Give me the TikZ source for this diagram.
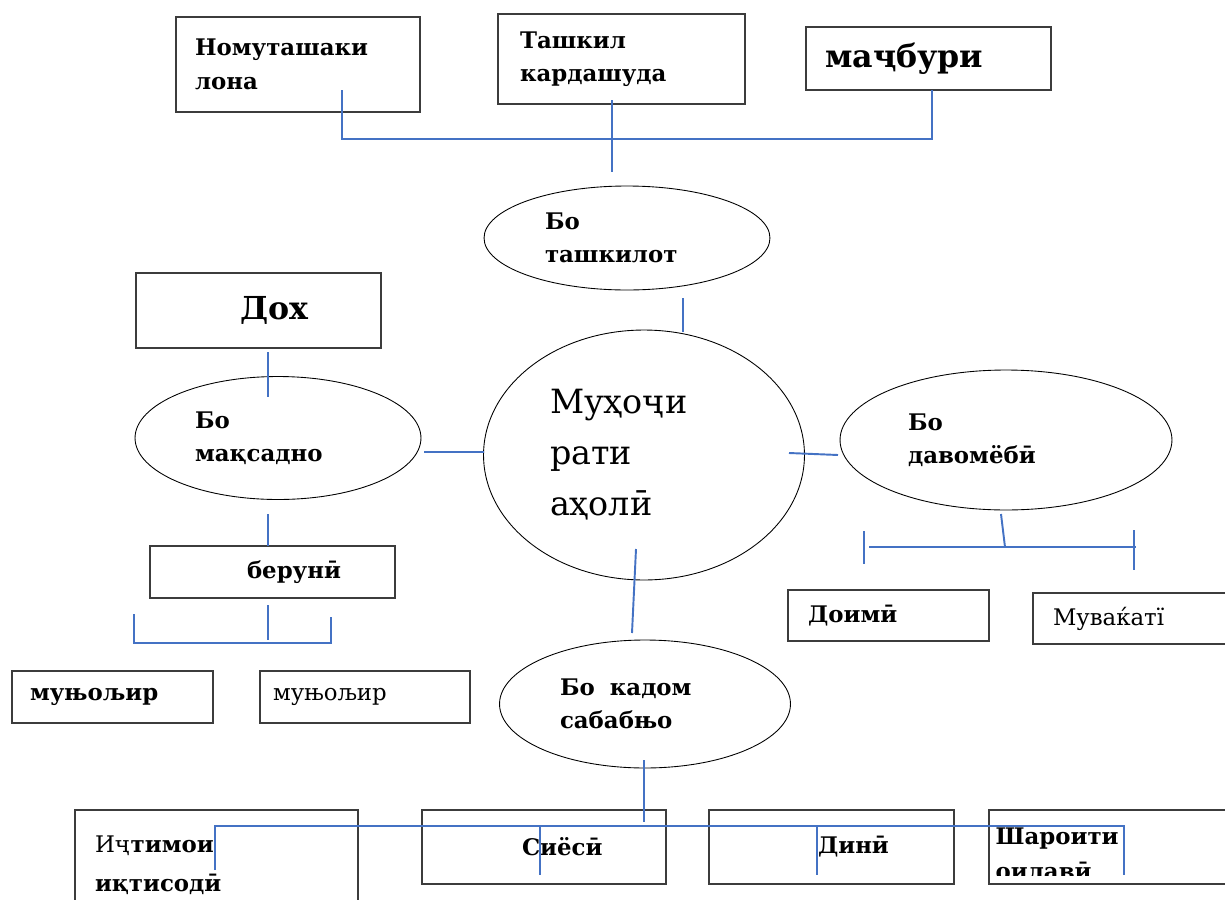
\documentclass[tikz,border=0pt]{standalone}
\usepackage{fontspec}
\setmainfont{DejaVu Serif}
\usetikzlibrary{shapes.geometric}

\definecolor{linkblue}{RGB}{68,114,196}
\definecolor{boxline}{RGB}{60,60,60}

\tikzset{
  box/.style={draw=boxline, line width=0.8pt, rectangle, align=left, inner ysep=0pt, inner xsep=0.38cm,
    font=\fontsize{13}{19}\selectfont\bfseries},
  oval/.style={draw, ellipse, line width=0.5pt, align=left, inner sep=0pt,
    font=\fontsize{13}{19}\selectfont\bfseries},
  plain/.style={font=\fontsize{13}{19}\selectfont},
  bigtxt/.style={font=\fontsize{18}{22}\selectfont\bfseries},
  lbl/.style={align=left, inner sep=0pt, font=\fontsize{13}{20}\selectfont\bfseries},
  link/.style={draw=linkblue, line width=1.1pt},
}

\begin{document}
\begin{tikzpicture}[x=0.02cm, y=-0.02cm]
  \clip (0,0) rectangle (1225,900);
  \fill[white] (0,0) rectangle (1225,900);

  % top row: kinds of organisation
  \node[box, text width=4.12cm, minimum height=1.9cm] (nomu) at (298,64.5) {Номуташаки\\лона};
  \node[box, inner xsep=0.44cm, text width=4.06cm, minimum height=1.8cm] (tashkil) at (621.5,59) {Ташкил\\кардашуда};
  \node[box, bigtxt, text width=4.14cm, minimum height=1.26cm] (majburi) at (928.5,58.5) {маҷбури};

  % ellipses round the centre
  \node[oval, minimum width=5.72cm, minimum height=2.08cm, text width=3.28cm] (org) at (627,238) {Бо\\ташкилот};
  \node[oval, minimum width=6.42cm, minimum height=5cm, text width=3.76cm,
        font=\fontsize{19}{29}\selectfont] (migr) at (644,455) {Муҳоҷи\\рати\\аҳолӣ};
  \node[oval, minimum width=5.72cm, minimum height=2.46cm, text width=3.32cm] (goal) at (278,438) {Бо\\мақсадно};
  \node[oval, minimum width=6.64cm, minimum height=2.8cm, text width=3.92cm] (durat) at (1006,440) {Бо\\давомёбӣ};
  \node[oval, minimum width=5.82cm, minimum height=2.56cm, text width=3.4cm] (reason) at (645,704) {Бо\ \ кадом\\сабабњо};

  % left branch
  \node[box, bigtxt, text width=4.14cm, minimum height=1.5cm] (dokh) at (258.5,310.5) {\hspace*{1.7cm}Дох};
  \node[box, text width=4.14cm, minimum height=1.04cm] (beruni) at (272.5,572) {\hspace*{1.56cm}берунӣ};
  \node[box, inner xsep=0.36cm, text width=3.3cm, minimum height=1.04cm] (muh1) at (112.5,697) {муњољир};
  \node[box, plain, inner xsep=0.26cm, text width=3.68cm, minimum height=1.04cm] (muh2) at (365,697) {муњољир};

  % right branch
  \node[box, inner xsep=0.4cm, text width=3.22cm, minimum height=1.02cm] (doimi) at (888.5,615.5) {Доимӣ};
  \node[box, plain, inner xsep=0.4cm, text width=3.4cm, minimum height=1.02cm] (muvaq) at (1138,618.5) {Муваќатї};

  % bottom row: causes
  \node[box, inner xsep=0.4cm, text width=4.86cm, minimum height=2.2cm,
        font=\fontsize{13}{22}\selectfont\bfseries] (ijt) at (216.5,865) {{\mdseries Иҷ}тимои\\иқтисодӣ};
  \node[box, text width=4.12cm, minimum height=1.48cm] (siyosi) at (544,847) {\hspace*{1.62cm}Сиёсӣ};
  \node[box, text width=4.14cm, minimum height=1.48cm] (dini) at (831.5,847) {\hspace*{1.8cm}Динӣ};
  \node[box, inner xsep=0.14cm, text width=4.74cm, minimum height=1.48cm] (sharoit) at (1114.5,847) {};
  \begin{scope}
    \clip (sharoit.north west) rectangle (1225,875);
    \node[lbl, anchor=north west] (sharoitT) at ([xshift=0.14cm, yshift=-0.36cm]sharoit.north west) {Шароити\\оилавӣ};
  \end{scope}

  % connector ends
  \coordinate (kindL) at (342,90);
  \coordinate (kindR) at (932,90);
  \coordinate (orgT) at (612,100);
  \coordinate (orgB) at (612,172);
  \coordinate (migrT) at (683,298);
  \coordinate (migrB) at (683,332);
  \coordinate (dokhT) at (268,352);
  \coordinate (dokhB) at (268,397);
  \coordinate (goalR) at (424,452);
  \coordinate (migrL) at (484,452);
  \coordinate (goalB) at (268,514);
  \coordinate (berT) at (268,546);
  \coordinate (berB) at (268,605);
  \coordinate (berC) at (268,640);
  \coordinate (muhL) at (134,614);
  \coordinate (muhR) at (331,617);
  \coordinate (migrR) at (789,453);
  \coordinate (duratL) at (838,455);
  \coordinate (duratB) at (1001,514);
  \coordinate (duratC) at (1005,547);
  \coordinate (tempL) at (869,547);
  \coordinate (tempR) at (1136,547);
  \coordinate (doimiT) at (864,531);
  \coordinate (doimiB) at (864,564);
  \coordinate (muvaqT) at (1134,530);
  \coordinate (muvaqB) at (1134,570);
  \coordinate (migrS) at (636,549);
  \coordinate (reasonN) at (632,633);
  \coordinate (reasonS) at (644,760);
  \coordinate (causeC) at (644,822);
  \coordinate (ijtB) at (215,870);
  \coordinate (sharB) at (1124,875);
  \coordinate (siyosiT) at (540,826);
  \coordinate (siyosiB) at (540,875);
  \coordinate (diniT) at (817,826);
  \coordinate (diniB) at (817,875);

  % connectors
  \draw[link] (kindL) -- ++(0,49) -| (kindR);
  \draw[link] (orgT) -- (orgB);
  \draw[link] (migrT) -- (migrB);
  \draw[link] (dokhT) -- (dokhB);
  \draw[link] (goalR) -- (migrL);
  \draw[link] (goalB) -- (berT);
  \draw[link] (berB) -- (berC);
  \draw[link] (muhL) -- ++(0,29) -| (muhR);
  \draw[link] (migrR) -- (duratL);
  \draw[link] (duratB) -- (duratC);
  \draw[link] (tempL) -- (tempR);
  \draw[link] (doimiT) -- (doimiB);
  \draw[link] (muvaqT) -- (muvaqB);
  \draw[link] (migrS) -- (reasonN);
  \draw[link] (reasonS) -- (causeC);
  \draw[link] (ijtB) -- ++(0,-44) -| (sharB);
  \draw[link] (siyosiT) -- (siyosiB);
  \draw[link] (diniT) -- (diniB);
\end{tikzpicture}
\end{document}
